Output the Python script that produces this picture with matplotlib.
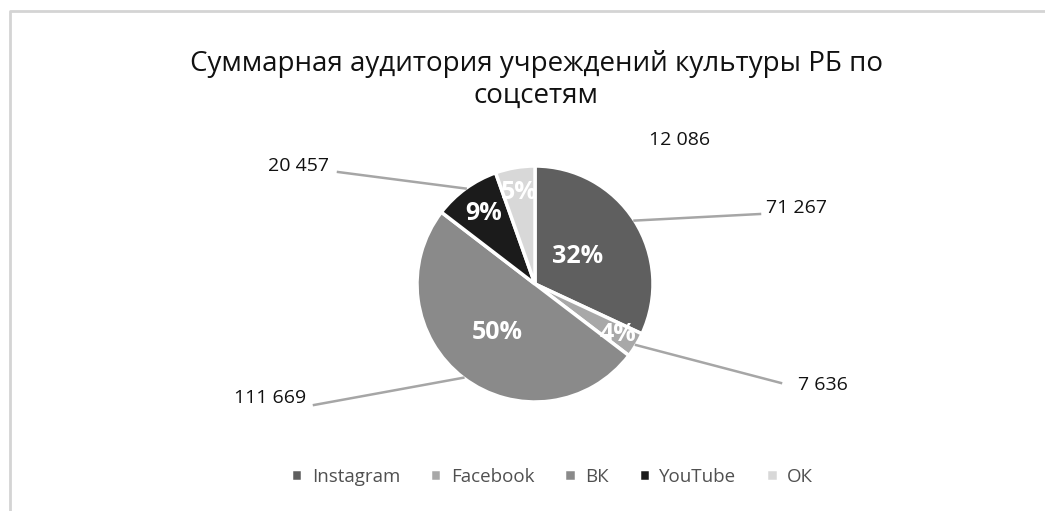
import numpy as np
import matplotlib
matplotlib.use('Agg')
import matplotlib.pyplot as plt

plt.rcParams['font.family'] = ['Open Sans', 'DejaVu Sans']

# Data
networks = ['Instagram', 'Facebook', 'ВК', 'YouTube', 'ОК']
audience = [71267, 7636, 111669, 20457, 12086]
value_labels = ['71 267', '7 636', '111 669', '20 457', '12 086']
pct_labels = ['32%', '4%', '50%', '9%', '5%']
colors = ['#5f5f5f', '#a8a8a8', '#8a8a8a', '#1b1b1b', '#d8d8d8']

W, H = 1045, 511
fig = plt.figure(figsize=(W / 100, H / 100), dpi=100)
ax = fig.add_axes([0, 0, 1, 1])

# chart frame (top and left edges visible)
ax.plot([10, 10, W], [0, H - 11, H - 11], color='#d4d4d4', lw=2, solid_capstyle='butt')

cx, cy, r = 535, H - 284, 118
wedges, _ = ax.pie(audience, colors=colors, startangle=90, counterclock=False,
                   center=(cx, cy), radius=r, explode=[0, 0.03, 0, 0, 0],
                   wedgeprops=dict(edgecolor='white', linewidth=2.5), frame=True)
ax.set_xlim(0, W)
ax.set_ylim(0, H)
ax.set_aspect('equal')
ax.axis('off')

# percentage labels inside the slices
pct_dist = [0.43, 0.82, 0.52, 0.74, 0.79]
for w, lab, d in zip(wedges, pct_labels, pct_dist):
    ang = np.deg2rad((w.theta1 + w.theta2) / 2)
    wx, wy = w.center
    ax.text(wx + d * r * np.cos(ang), wy + d * r * np.sin(ang), lab,
            color='white', fontsize=18, fontweight='bold', ha='center', va='center')

# value labels with leader lines
text_pos = [(797, H - 208), (823, H - 385), (270, H - 398), (298, H - 166), (680, H - 140)]
line_end = [(760, H - 214), (781, H - 383), (314, H - 405), (338, H - 172), None]
for w, lab, tp, le in zip(wedges, value_labels, text_pos, line_end):
    ang = np.deg2rad((w.theta1 + w.theta2) / 2)
    wx, wy = w.center
    if le is not None:
        sx, sy = wx + r * np.cos(ang), wy + r * np.sin(ang)
        ax.plot([sx, le[0]], [sy, le[1]], color='#a6a6a6', lw=1.8)
    ax.text(tp[0], tp[1], lab, fontsize=14, color='#111111', ha='center', va='center')

ax.text(536, H - 80, 'Суммарная аудитория учреждений культуры РБ по\nсоцсетям',
        fontsize=20, color='#111111', ha='center', va='center', linespacing=1.15)

leg = ax.legend(wedges, networks, loc='center', bbox_to_anchor=(552 / W, 1 - 477 / H),
                ncol=5, frameon=False, fontsize=13.5, handlelength=0.6, handleheight=0.6,
                handletextpad=0.5, columnspacing=1.6, labelcolor='#505050')

fig.savefig('out.png', dpi=100, facecolor='white')
